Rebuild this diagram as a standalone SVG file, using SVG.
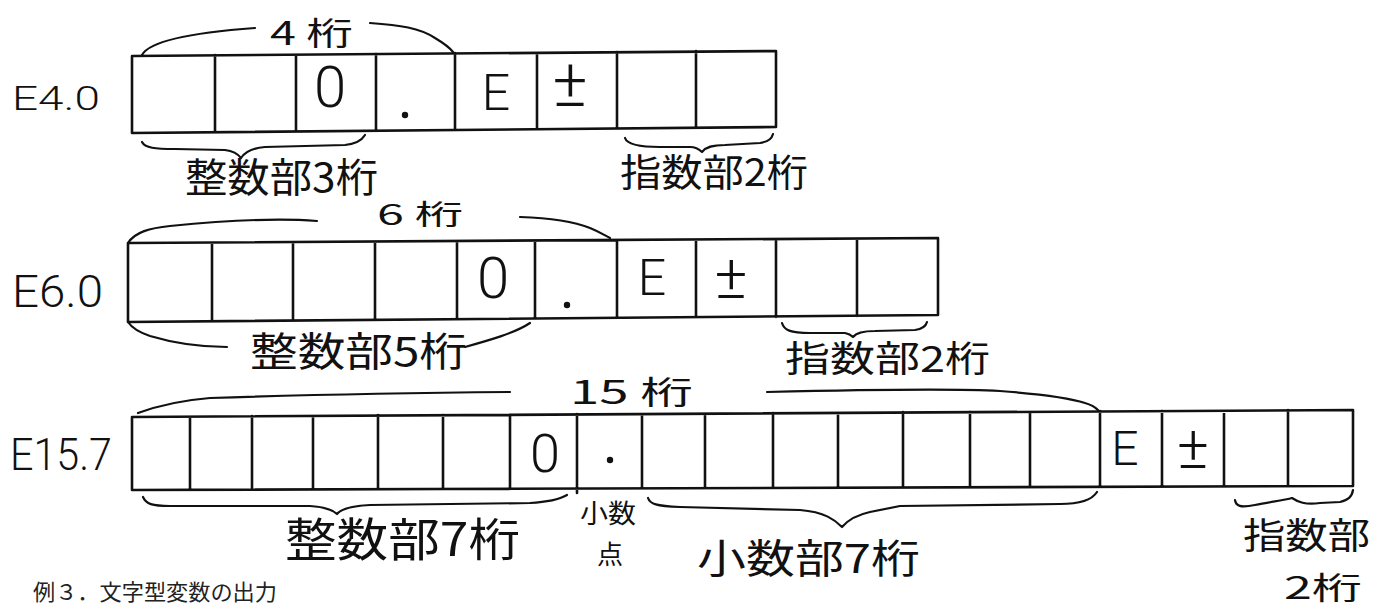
<svg xmlns="http://www.w3.org/2000/svg" width="1385" height="608" viewBox="0 0 1385 608">
<defs>
<style>
.bg{fill:#ffffff}
.cell{fill:none;stroke:#111;stroke-width:2.6;stroke-linecap:round;stroke-linejoin:round}
.brace{fill:none;stroke:#111;stroke-width:2.2;stroke-linecap:round;stroke-linejoin:round}
.lat{font-family:Roboto,Inter,"DejaVu Sans","Liberation Sans",sans-serif;font-weight:300;fill:#111}
.jp{font-family:"Noto Sans CJK JP","Noto Sans CJK SC",sans-serif;font-weight:400;fill:#111}
.cap{font-family:"Noto Sans CJK JP","Noto Sans CJK SC",sans-serif;font-weight:400;fill:#222}
.dot{fill:#111}
</style>
</defs>
<rect class="bg" x="0" y="0" width="1385" height="608"/>

<g id="row-e4-0">
<text class="lat" x="12" y="110" font-size="34" textLength="88" lengthAdjust="spacingAndGlyphs">E4.0</text>
<path class="cell" d="M132,56 L776,51 L776,127 L132,133 Z M215,55 V132 M296,55 V131 M376,54 V131 M455,53 V130 M537,53 V129 M617,52 V128 M696,51 V128"/>
<text class="lat" x="330" y="107" font-size="58" text-anchor="middle">0</text>
<circle class="dot" cx="405" cy="115" r="3.2"/>
<text class="lat" x="496" y="110" font-size="50" text-anchor="middle">E</text>
<text class="lat" x="570" y="106" font-size="66" text-anchor="middle">±</text>
</g>

<g id="row-e6-0">
<text class="lat" x="12" y="307" font-size="44" textLength="91" lengthAdjust="spacingAndGlyphs">E6.0</text>
<path class="cell" d="M128,243 L938,238 L938,315 L128,322 Z M212,243 V321 M293,242 V320 M375,242 V320 M457,241 V319 M535,241 V318 M617,240 V318 M696,240 V317 M776,239 V317 M857,239 V316"/>
<text class="lat" x="493" y="298" font-size="58" text-anchor="middle">0</text>
<circle class="dot" cx="567" cy="305" r="3.2"/>
<text class="lat" x="652" y="295" font-size="50" text-anchor="middle">E</text>
<text class="lat" x="731" y="298" font-size="62" text-anchor="middle">±</text>
</g>

<g id="row-e15-7">
<text class="lat" x="10" y="470" font-size="44" textLength="102" lengthAdjust="spacingAndGlyphs">E15.7</text>
<path class="cell" d="M132,417 L1353,410 L1353,486 L132,490 Z M190,417 V490 M252,416 V490 M313,416 V489 M378,415 V489 M443,415 V489 M510,415 V489 M577,414 V493 M642,414 V488 M705,414 V488 M773,413 V488 M838,413 V487 M903,412 V487 M970,412 V487 M1030,412 V487 M1100,411 V487 M1162,411 V486 M1224,411 V486 M1288,410 V486"/>
<text class="lat" x="545" y="472" font-size="54" text-anchor="middle">0</text>
<circle class="dot" cx="610" cy="460" r="3.2"/>
<text class="lat" x="1125" y="465" font-size="48" text-anchor="middle">E</text>
<text class="lat" x="1193" y="468" font-size="60" text-anchor="middle">±</text>
</g>

<g id="connectors">
<path class="brace" d="M142,55 C150,40 200,32 255,28"/>
<path class="brace" d="M370,23 C400,25 420,28 435,38 C445,44 450,48 453,52"/>
<path class="brace" d="M142,142 C145,148 155,149 175,149 L225,150 C233,151 238,154 241,158 C245,152 252,148 265,147 L345,145 C355,144 362,140 365,135"/>
<path class="brace" d="M625,138 C627,144 640,147 660,147 L690,147 C696,147 700,150 702,152 C706,147 712,145 725,145 L760,143 C768,142 772,138 773,134"/>
<path class="brace" d="M128,243 C135,232 150,228 170,226 C230,220 280,218 317,221"/>
<path class="brace" d="M520,217 C550,218 575,222 590,228 C600,232 606,236 610,238"/>
<path class="brace" d="M128,322 C132,328 138,332 150,336 C180,345 205,347 227,347"/>
<path class="brace" d="M465,347 C490,340 515,333 530,323"/>
<path class="brace" d="M782,323 C784,330 790,333 810,333 L845,333 C850,334 852,336 853,337 C856,333 862,331 875,331 L915,330 C922,329 926,326 927,322"/>
<path class="brace" d="M138,413 C160,405 185,400 210,398 C300,395 400,393 510,392"/>
<path class="brace" d="M767,392 C850,390 950,388 1000,391 C1040,394 1070,398 1085,403 C1092,405 1096,408 1098,410"/>
<path class="brace" d="M143,497 C146,504 152,506 170,506 L310,506 C325,507 333,510 337,514 C341,509 350,506 370,505 L530,503 C548,502 560,499 567,495"/>
<path class="brace" d="M648,498 C650,504 656,506 680,507 L800,510 C825,512 835,520 842,527 C848,520 856,515 870,512 L900,506 L1060,504 C1080,504 1092,500 1097,492"/>
<path class="brace" d="M1235,500 C1236,506 1240,508 1255,505 C1270,502 1285,500 1292,498 C1298,502 1305,505 1320,503 L1340,502 C1348,500 1352,497 1353,490"/>
</g>

<g id="labels">
<text class="jp" x="270" y="45" font-size="32" textLength="83" lengthAdjust="spacingAndGlyphs">4 桁</text>
<text class="jp" x="185" y="192" font-size="40" textLength="193" lengthAdjust="spacingAndGlyphs">整数部3桁</text>
<text class="jp" x="620" y="186" font-size="38" textLength="188" lengthAdjust="spacingAndGlyphs">指数部2桁</text>
<text class="jp" x="377" y="225" font-size="28" textLength="86" lengthAdjust="spacingAndGlyphs">6 桁</text>
<text class="jp" x="250" y="366" font-size="40" textLength="217" lengthAdjust="spacingAndGlyphs">整数部5桁</text>
<text class="jp" x="785" y="372" font-size="36" textLength="205" lengthAdjust="spacingAndGlyphs">指数部2桁</text>
<text class="jp" x="570" y="404" font-size="32" textLength="123" lengthAdjust="spacingAndGlyphs">15 桁</text>
<text class="jp" x="285" y="556" font-size="46" textLength="235" lengthAdjust="spacingAndGlyphs">整数部7桁</text>
<text class="jp" x="580" y="523" font-size="26" textLength="56" lengthAdjust="spacingAndGlyphs">小数</text>
<text class="jp" x="597" y="564" font-size="26">点</text>
<text class="jp" x="697" y="573" font-size="40" textLength="223" lengthAdjust="spacingAndGlyphs">小数部7桁</text>
<text class="jp" x="1243" y="549" font-size="36" textLength="127" lengthAdjust="spacingAndGlyphs">指数部</text>
<text class="jp" x="1284" y="599" font-size="31" textLength="78" lengthAdjust="spacingAndGlyphs">2桁</text>
<text class="cap" x="33" y="600" font-size="22" textLength="244" lengthAdjust="spacingAndGlyphs">例３．文字型変数の出力</text>
</g>
</svg>
